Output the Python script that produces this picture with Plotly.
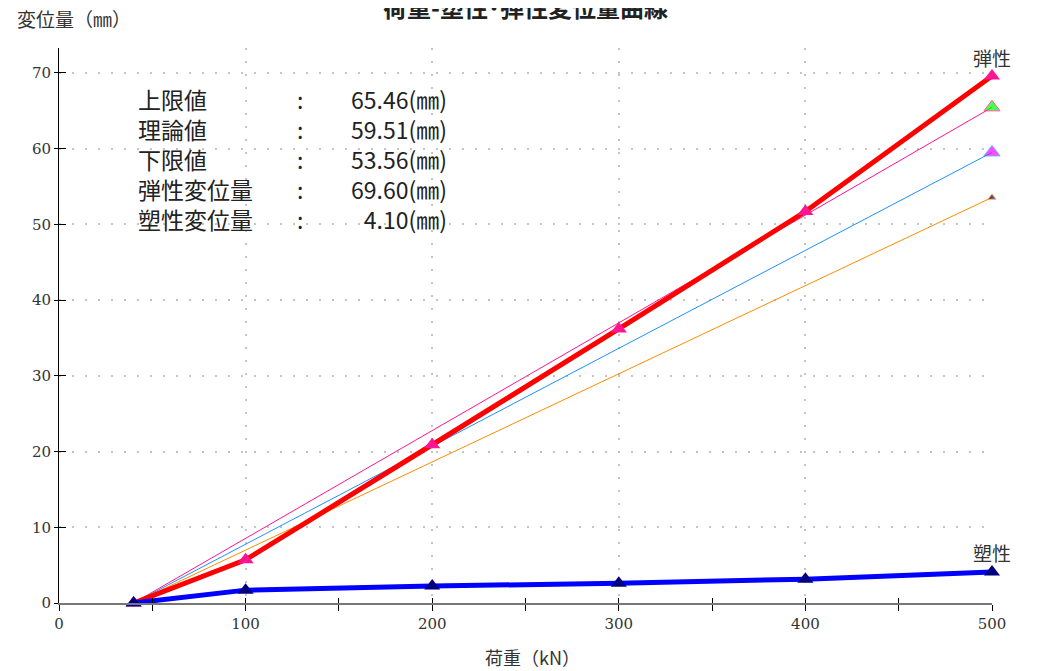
import plotly.graph_objects as go

# ---- data ----
load = [40, 100, 200, 300, 400, 500]
elastic = [0, 5.7, 20.9, 36.2, 51.7, 69.6]
plastic = [0, 1.7, 2.25, 2.6, 3.15, 4.1]

limit_x = [40, 500]
upper_limit = [0, 65.46]
theory = [0, 59.51]
lower_limit = [0, 53.56]

info_labels = ["上限値", "理論値", "下限値", "弾性変位量", "塑性変位量"]
info_values = ["65.46(㎜)", "59.51(㎜)", "53.56(㎜)", "69.60(㎜)", "4.10(㎜)"]

x_ticks = [0, 100, 200, 300, 400, 500]
y_ticks = [0, 10, 20, 30, 40, 50, 60, 70]

CJK = "Noto Sans CJK JP"
SERIF = "DejaVu Serif"

fig = go.Figure()

# thin reference lines (marker only at the end point)
for ys, lc, mc, ms in [
    (upper_limit, "#FF1493", "#00FF00", 14),
    (theory, "#1E90FF", "#FF00FF", 14),
    (lower_limit, "#FF8C00", "#000080", 7),
]:
    fig.add_trace(go.Scatter(
        x=limit_x, y=ys, mode="lines+markers", cliponaxis=False,
        line=dict(color=lc, width=1),
        marker=dict(symbol="triangle-up", color=mc, size=[0, ms]),
        showlegend=False, hoverinfo="skip"))

fig.add_trace(go.Scatter(
    x=load, y=elastic, mode="lines+markers", cliponaxis=False,
    line=dict(color="#FF0000", width=5),
    marker=dict(symbol="triangle-up", color="#FF1493", size=14),
    showlegend=False))

fig.add_trace(go.Scatter(
    x=load, y=plastic, mode="lines+markers", cliponaxis=False,
    line=dict(color="#0000FF", width=5),
    marker=dict(symbol="triangle-up", color="#000080", size=14),
    showlegend=False))

# invisible trace on overlay axes (for crossing ticks)
fig.add_trace(go.Scatter(x=load, y=elastic, xaxis="x2", yaxis="y2",
                         mode="none", showlegend=False, hoverinfo="skip"))

XR = [0, 500]
YR = [0, 73.3]
GRID = dict(showgrid=True, gridcolor="#c4c4c4", griddash="2px,11px", gridwidth=2)

fig.update_layout(
    width=1040, height=671,
    paper_bgcolor="white", plot_bgcolor="white",
    margin=dict(l=51, r=56, t=40, b=76),
    xaxis=dict(range=XR, tickmode="array", tickvals=x_ticks,
               ticks="outside", ticklen=6, tickcolor="black", tickwidth=1,
               minor=dict(dtick=50, tick0=0, ticks="outside", ticklen=6,
                          tickcolor="black", showgrid=False),
               showline=True, linecolor="#777", linewidth=2,
               zeroline=False,
               tickfont=dict(family=SERIF, size=15, color="#333"), **GRID),
    yaxis=dict(range=YR, tickmode="array", tickvals=y_ticks,
               ticks="outside", ticklen=4, tickcolor="black", tickwidth=1,
               showline=True, linecolor="black", linewidth=1,
               zeroline=False,
               tickfont=dict(family=SERIF, size=15, color="#333"), **GRID),
    xaxis2=dict(range=XR, overlaying="x", anchor="y2", tickmode="array",
                tickvals=x_ticks, ticks="inside", ticklen=5, tickcolor="black",
                minor=dict(dtick=50, tick0=0, ticks="inside", ticklen=5,
                           tickcolor="black", showgrid=False),
                showticklabels=False, showgrid=False, showline=False,
                zeroline=False),
    yaxis2=dict(range=YR, overlaying="y", anchor="x2", tickmode="array",
                tickvals=y_ticks, ticks="inside", ticklen=7, tickcolor="black",
                showticklabels=False, showgrid=False, showline=False,
                zeroline=False),
)

ann = []
# title (partly cut off at the top, as in the reference)
ann.append(dict(text="<b>荷重-塑性･弾性変位量曲線</b>", xref="paper", yref="paper",
                x=0.5, y=1.075, xanchor="center", yanchor="middle", showarrow=False,
                font=dict(family=CJK, size=24, color="#222")))
ann.append(dict(text="変位量（㎜）", xref="paper", yref="paper", x=-0.047, y=1.054,
                xanchor="left", yanchor="middle", showarrow=False,
                font=dict(family=CJK, size=19, color="#333")))
ann.append(dict(text="荷重（kN）", xref="paper", yref="paper", x=0.507, y=-0.097,
                xanchor="center", yanchor="middle", showarrow=False,
                font=dict(family=CJK, size=18, color="#333")))

block_y = 0.80
ann.append(dict(text="<br>".join(info_labels), xref="paper", yref="paper",
                x=0.0825, y=block_y, xanchor="left", yanchor="middle", align="left",
                showarrow=False, font=dict(family=CJK, size=23, color="#222")))
ann.append(dict(text="<br>".join([":"] * len(info_labels)), xref="paper", yref="paper",
                x=0.258, y=block_y, xanchor="center", yanchor="middle", align="center",
                showarrow=False, font=dict(family=CJK, size=23, color="#222")))
ann.append(dict(text="<br>".join(info_values), xref="paper", yref="paper",
                x=0.418, y=block_y, xanchor="right", yanchor="middle", align="right",
                showarrow=False, font=dict(family=CJK, size=23, color="#222")))

ann.append(dict(text="弾性", x=load[-1], y=elastic[-1], xref="x", yref="y",
                yshift=19, showarrow=False, xanchor="center", yanchor="middle",
                font=dict(family=CJK, size=19, color="#333")))
ann.append(dict(text="塑性", x=load[-1], y=plastic[-1], xref="x", yref="y",
                yshift=19, showarrow=False, xanchor="center", yanchor="middle",
                font=dict(family=CJK, size=19, color="#333")))

fig.update_layout(annotations=ann)

fig.write_html("out.html")
